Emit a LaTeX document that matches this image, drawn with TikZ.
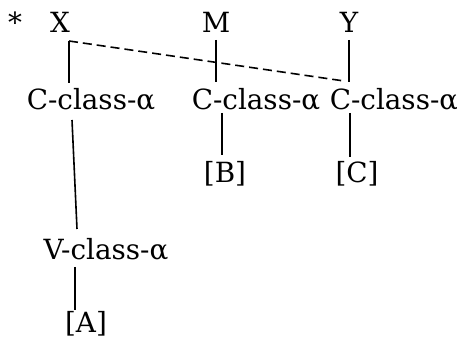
\documentclass[tikz,border=0pt]{standalone}
\usepackage{fontspec}
\setmainfont{DejaVu Serif}
\usetikzlibrary{positioning}

\begin{document}
\begin{tikzpicture}[
x=0.5pt, y=-0.5pt,
lbl/.style={inner sep=0pt, anchor=base, font=\fontsize{13.9}{16}\selectfont},
ln/.style={line width=0.8pt},
dsh/.style={line width=0.8pt, dash pattern=on 4.5pt off 2.5pt}
]
\useasboundingbox (0,0) rectangle (457,340);

% top row
\node[lbl] (star) at (15,33) {*};
\node[lbl] (x) at (60,33) {X};
\node[lbl] (m) at (216,33) {M};
\node[lbl] (y) at (349,33) {Y};

% class row
\node[lbl] (c1) at (91,110) {C-class-α};
\node[lbl] (c2) at (256,110) {C-class-α};
\node[lbl] (c3) at (394,110) {C-class-α};

\node[lbl] (v) at (106,260) {V-class-α};
\node[lbl] (b) at (225,183) {[B]};
\node[lbl] (cc) at (357,183) {[C]};
\node[lbl] (a) at (86,333) {[A]};

\draw[ln] ([shift={(4.5pt,-4pt)}]x.base) -- ([shift={(-11pt,13.5pt)}]c1.base);
\draw[dsh] ([shift={(4.5pt,-4pt)}]x.base) -- ([shift={(-25pt,14.5pt)}]c3.base);
\draw[ln] ([shift={(0pt,-3.5pt)}]m.base) -- ([shift={(-20pt,14pt)}]c2.base);
\draw[ln] ([shift={(0pt,-3.5pt)}]y.base) -- ([shift={(-22.5pt,14pt)}]c3.base);

\draw[ln] ([shift={(-9.5pt,-5pt)}]c1.base) -- ([shift={(-14.5pt,15.5pt)}]v.base);
\draw[ln] ([shift={(-15.5pt,-3.5pt)}]v.base) -- ([shift={(-5.5pt,11.5pt)}]a.base);
\draw[ln] ([shift={(-17pt,-1.5pt)}]c2.base) -- ([shift={(-1.5pt,14pt)}]b.base);
\draw[ln] ([shift={(-22pt,-1.5pt)}]c3.base) -- ([shift={(-3.5pt,13pt)}]cc.base);
\end{tikzpicture}
\end{document}
